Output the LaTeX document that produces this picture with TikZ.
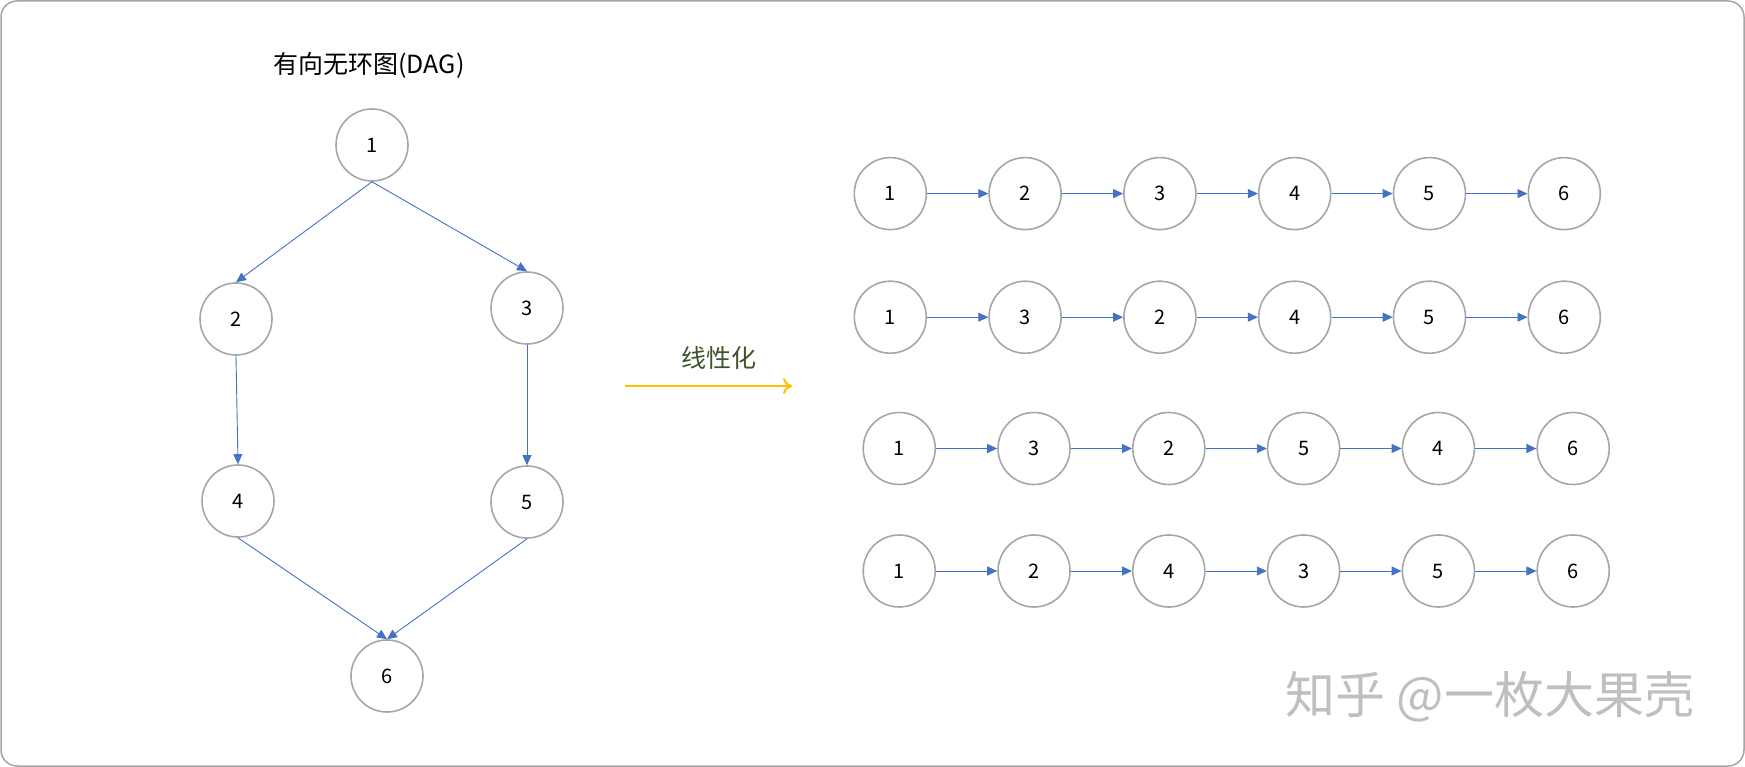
\documentclass[tikz,border=0pt]{standalone}
\usepackage{fontspec}
\setmainfont{Noto Sans CJK SC}
\usetikzlibrary{positioning,arrows.meta}
\definecolor{ringgray}{HTML}{A6A6A6}
\definecolor{edgeblue}{HTML}{4472C4}
\definecolor{gold}{HTML}{FFC000}
\definecolor{leafgreen}{HTML}{3B5526}
\tikzset{
  vtx/.style={circle, draw=ringgray, line width=1.6pt, minimum size=72pt, inner sep=0pt,
              font=\fontsize{20}{24}\selectfont},
  flow/.style={-{Triangle[length=10pt,width=9pt]}, draw=edgeblue, line width=0.9pt},
  lin/.style={-{To[length=9pt,width=16pt]}, draw=gold, line width=2pt},
}
\begin{document}
\begin{tikzpicture}[x=1pt,y=-1pt,node distance=61.2pt]
\useasboundingbox (0,0) rectangle (1745,767);
\draw[ringgray, line width=1.5pt, rounded corners=16pt] (1,1) rectangle (1744,766);
% DAG
\node[font=\fontsize{25}{30}\selectfont] (title) at (369,65) {有向无环图(DAG)};
\node[vtx] (d1) at (372,145) {1};
\node[vtx] (d2) at (236,319) {2};
\node[vtx] (d3) at (527,308) {3};
\node[vtx] (d4) at (238,501) {4};
\node[vtx] (d5) at (527,502) {5};
\node[vtx] (d6) at (387,676) {6};
\foreach \a/\b in {d1/d2,d1/d3,d2/d4,d3/d5,d4/d6,d5/d6}
  \draw[flow] (\a.south) -- (\b.north);
% linearisation
\coordinate (ls) at (625,386);
\coordinate (le) at (792,386);
\draw[lin] (ls) -- (le);
\node[text=leafgreen, font=\fontsize{25}{30}\selectfont] (lab) at (719,358) {线性化};
% topological orders
\node[vtx] (a1) at (890.3,193.6) {1};
\node[vtx, right=of a1] (a2) {2}; \node[vtx, right=of a2] (a3) {3};
\node[vtx, right=of a3] (a4) {4}; \node[vtx, right=of a4] (a5) {5};
\node[vtx, right=of a5] (a6) {6};
\node[vtx] (b1) at (890.3,317.2) {1};
\node[vtx, right=of b1] (b2) {3}; \node[vtx, right=of b2] (b3) {2};
\node[vtx, right=of b3] (b4) {4}; \node[vtx, right=of b4] (b5) {5};
\node[vtx, right=of b5] (b6) {6};
\node[vtx] (c1) at (899.2,448.5) {1};
\node[vtx, right=of c1] (c2) {3}; \node[vtx, right=of c2] (c3) {2};
\node[vtx, right=of c3] (c4) {5}; \node[vtx, right=of c4] (c5) {4};
\node[vtx, right=of c5] (c6) {6};
\node[vtx] (e1) at (899.2,571) {1};
\node[vtx, right=of e1] (e2) {2}; \node[vtx, right=of e2] (e3) {4};
\node[vtx, right=of e3] (e4) {3}; \node[vtx, right=of e4] (e5) {5};
\node[vtx, right=of e5] (e6) {6};
\foreach \row in {a,b,c,e}
  \foreach \i/\k in {1/2,2/3,3/4,4/5,5/6}
    \draw[flow] (\row\i) -- (\row\k);
% watermark
\node[text=gray!50, font=\fontsize{50}{60}\selectfont] (mark) at (1490,697) {知乎 @一枚大果壳};
\end{tikzpicture}
\end{document}
